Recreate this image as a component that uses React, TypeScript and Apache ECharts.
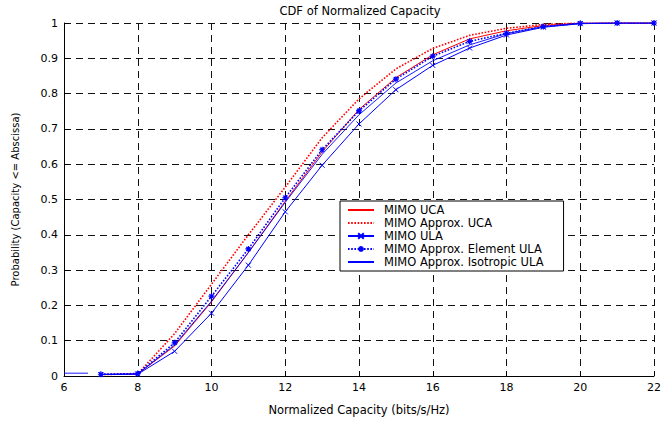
import React, { useEffect, useRef } from "react";
import * as echarts from "echarts";

const xs = [7, 8, 9, 10, 11, 12, 13, 14, 15, 16, 17, 18, 19, 20, 21, 22];
const ucaValues = [0.004, 0.006, 0.085, 0.21, 0.35, 0.495, 0.635, 0.755, 0.845, 0.91, 0.955, 0.978, 0.993, 0.999, 1, 1];
const approxUcaValues = [0.004, 0.006, 0.12, 0.26, 0.4, 0.535, 0.675, 0.785, 0.87, 0.928, 0.965, 0.985, 0.996, 1, 1, 1];
const ulaValues = [0.004, 0.005, 0.07, 0.178, 0.314, 0.465, 0.597, 0.714, 0.811, 0.88, 0.929, 0.966, 0.988, 0.998, 1, 1];
const elementUlaValues = [0.005, 0.007, 0.094, 0.226, 0.36, 0.505, 0.641, 0.751, 0.841, 0.906, 0.948, 0.971, 0.99, 0.999, 1, 1];
const isoStubX = [6, 6.65];
const isoStubValues = [0.008, 0.008];
const isotropicUlaValues = [0.005, 0.006, 0.088, 0.212, 0.35, 0.492, 0.628, 0.74, 0.83, 0.893, 0.938, 0.97, 0.99, 0.999, 1, 1];
const seriesNames = [
  "MIMO UCA",
  "MIMO Approx. UCA",
  "MIMO ULA",
  "MIMO Approx. Element ULA",
  "MIMO Approx. Isotropic ULA",
];

const pair = (x: number[], y: number[]) => x.map((v, i) => [v, y[i]]);

const RED = "#ff0000";
const BLUE = "#0000ff";
const FONT = "'DejaVu Sans', 'Liberation Sans', Arial, sans-serif";

const X_MARK = "path://M0,0L10,10M10,0L0,10";
const STAR_MARK = "path://M5,0L5,10M0,5L10,5M1.5,1.5L8.5,8.5M8.5,1.5L1.5,8.5";

export default function App() {
  const ref = useRef<HTMLDivElement>(null);
  useEffect(() => {
    if (!ref.current) return;
    const chart = echarts.init(ref.current, null, { renderer: "svg" });
    const isoData: any[] = [...pair(isoStubX, isoStubValues), [6.8, "-"], ...pair(xs, isotropicUlaValues)];
    const axisCommon = {
      axisLine: { show: true, onZero: false, lineStyle: { color: "#000", width: 1 } },
      axisTick: { show: true, inside: true, length: 5, lineStyle: { color: "#000" } },
      splitLine: { show: true, lineStyle: { color: "#111", type: [7, 5] as any, width: 1 } },
      axisLabel: { color: "#000", fontSize: 11, fontFamily: FONT },
    };
    chart.setOption({
      animation: false,
      backgroundColor: "#fff",
      grid: { left: 64, right: 5, top: 23, bottom: 39 },
      graphic: [
        {
          type: "text",
          x: 360,
          y: 11,
          style: {
            text: "CDF of Normalized Capacity",
            fontSize: 11.5,
            fontFamily: FONT,
            fill: "#000",
            align: "center",
            verticalAlign: "middle",
          },
        },
      ],
      xAxis: {
        type: "value",
        min: 6,
        max: 22,
        interval: 2,
        ...axisCommon,
        axisLabel: { ...axisCommon.axisLabel, margin: 6 },
        name: "Normalized Capacity (bits/s/Hz)",
        nameLocation: "middle",
        nameGap: 28,
        nameTextStyle: { color: "#000", fontSize: 11.5, fontFamily: FONT },
      },
      yAxis: {
        type: "value",
        min: 0,
        max: 1,
        interval: 0.1,
        ...axisCommon,
        axisLabel: { ...axisCommon.axisLabel, margin: 6 },
        name: "Probability (Capacity <= Abscissa)",
        nameLocation: "middle",
        nameGap: 44,
        nameTextStyle: { color: "#000", fontSize: 10, fontFamily: FONT },
      },
      legend: {
        orient: "vertical",
        left: 340,
        top: 201,
        padding: [3, 20, 3, 7],
        itemGap: 1,
        itemWidth: 26,
        itemHeight: 7,
        backgroundColor: "#fff",
        borderColor: "#000",
        borderWidth: 1,
        borderRadius: 0,
        textStyle: { color: "#000", fontSize: 11.5, fontFamily: FONT, padding: [0, 0, 0, 5], lineHeight: 12 },
        data: [
          { name: seriesNames[0], itemStyle: { opacity: 0 } },
          { name: seriesNames[1], itemStyle: { opacity: 0 } },
          { name: seriesNames[2] },
          { name: seriesNames[3] },
          { name: seriesNames[4], itemStyle: { opacity: 0 } },
        ],
      },
      series: [
        {
          name: seriesNames[0],
          type: "line",
          data: pair(xs, ucaValues),
          symbol: "none",
          lineStyle: { color: RED, width: 1 },
          itemStyle: { color: RED },
          z: 3,
        },
        {
          name: seriesNames[1],
          type: "line",
          data: pair(xs, approxUcaValues),
          symbol: "none",
          lineStyle: { color: RED, width: 1.6, type: [1.6, 1.6] as any },
          itemStyle: { color: RED },
          z: 3,
        },
        {
          name: seriesNames[2],
          type: "line",
          data: pair(xs, ulaValues),
          symbol: X_MARK,
          symbolSize: 5,
          showAllSymbol: true,
          lineStyle: { color: BLUE, width: 1 },
          itemStyle: { color: BLUE, borderColor: BLUE, borderWidth: 1 },
          z: 4,
        },
        {
          name: seriesNames[3],
          type: "line",
          data: pair(xs, elementUlaValues),
          symbol: STAR_MARK,
          symbolSize: 6,
          showAllSymbol: true,
          lineStyle: { color: BLUE, width: 1.6, type: [1.6, 1.6] as any },
          itemStyle: { color: BLUE, borderColor: BLUE, borderWidth: 1.2 },
          z: 4,
        },
        {
          name: seriesNames[4],
          type: "line",
          data: isoData,
          symbol: "none",
          connectNulls: false,
          lineStyle: { color: BLUE, width: 0.9 },
          itemStyle: { color: BLUE },
          z: 4,
        },
      ],
    });
    return () => chart.dispose();
  }, []);
  return (
    <div
      ref={ref}
      style={{ position: "fixed", left: 0, top: 0, width: 664, height: 421, background: "#fff" }}
    />
  );
}
